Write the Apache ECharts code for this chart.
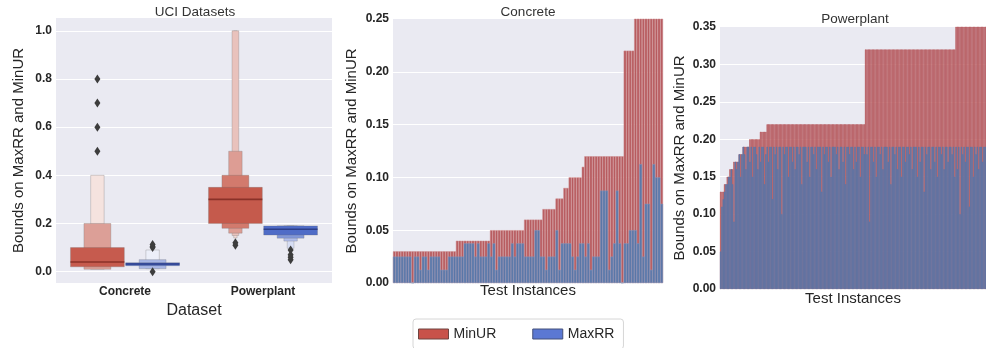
<!DOCTYPE html>
<html>
<head>
<meta charset="utf-8">
<script src="https://cdn.jsdelivr.net/npm/echarts@6/dist/echarts.min.js"></script>
<style>
html, body { margin: 0; padding: 0; background: #fff; }
#main { width: 986px; height: 348px; }
</style>
</head>
<body>
<div id="main"></div>
<script>
// ---- left panel: letter-value (boxen) plot ----
var datasets = ['Concrete', 'Powerplant'];
// boxes per dataset, innermost level first: [low, high]
var minurBoxes = [
	[[0.02, 0.10], [0.01, 0.20], [0.01, 0.40]],
	[[0.20, 0.35], [0.18, 0.40], [0.16, 0.50], [0.15, 1.00], [0.14, 1.00]]
];
var maxrrBoxes = [
	[[0.025, 0.0375], [0.0125, 0.05], [0.0125, 0.09]],
	[[0.152, 0.19], [0.139, 0.19], [0.127, 0.19], [0.097, 0.19]]
];
var minurMedians = [0.04, 0.30];
var maxrrMedians = [0.032, 0.176];
var minurOutliers = [[0.5, 0.6, 0.7, 0.8], [0.11, 0.12]];
var maxrrOutliers = [[0.0, 0.10, 0.105, 0.1125], [0.05, 0.06, 0.07, 0.09]];

// ---- middle panel: Concrete test instances (sorted by MinUR) ----
var concreteMinUR = [
	0.03, 0.03, 0.03, 0.03, 0.03, 0.03, 0.03, 0.03, 0.03, 0.03, 0.03, 0.03,
	0.03, 0.03, 0.03, 0.03, 0.03, 0.03, 0.03, 0.03, 0.03, 0.03, 0.03, 0.03,
	0.04, 0.04, 0.04, 0.04, 0.04, 0.04, 0.04, 0.04, 0.04, 0.04, 0.04, 0.04, 0.04,
	0.05, 0.05, 0.05, 0.05, 0.05, 0.05, 0.05, 0.05, 0.05, 0.05, 0.05, 0.05, 0.05,
	0.06, 0.06, 0.06, 0.06, 0.06, 0.06, 0.06,
	0.07, 0.07, 0.07, 0.07, 0.07,
	0.08, 0.08, 0.08,
	0.09, 0.09,
	0.10, 0.10, 0.10, 0.10, 0.10,
	0.11,
	0.12, 0.12, 0.12, 0.12, 0.12, 0.12, 0.12, 0.12, 0.12, 0.12, 0.12, 0.12, 0.12, 0.12, 0.12,
	0.22, 0.22, 0.22, 0.22,
	0.30, 0.30, 0.35, 0.40, 0.40, 0.40, 0.40, 0.50, 0.60, 0.70, 0.80
];
var concreteMaxRR = [
	0.025, 0.025, 0.025, 0.025, 0.025, 0.025, 0.025, 0.0, 0.025, 0.025,
	0.0125, 0.025, 0.025, 0.0125, 0.025, 0.025, 0.025, 0.025, 0.0125, 0.0125,
	0.0125, 0.025, 0.025, 0.025, 0.025, 0.025, 0.025, 0.0375, 0.0375, 0.0375,
	0.0375, 0.025, 0.0375, 0.025, 0.025, 0.025, 0.0375, 0.025, 0.0375, 0.0125,
	0.025, 0.025, 0.025, 0.025, 0.025, 0.0375, 0.025, 0.0375, 0.0375, 0.0375,
	0.025, 0.025, 0.025, 0.025, 0.05, 0.05, 0.025, 0.025, 0.0125, 0.025,
	0.025, 0.025, 0.05, 0.0125, 0.0375, 0.0375, 0.0375, 0.0375, 0.025, 0.0125,
	0.025, 0.0375, 0.0375, 0.025, 0.0375, 0.0125, 0.025, 0.025, 0.025, 0.0875,
	0.0875, 0.0875, 0.0125, 0.025, 0.0375, 0.0875, 0.0375, 0.0, 0.0375, 0.0375,
	0.05, 0.05, 0.05, 0.0375, 0.1125, 0.025, 0.075, 0.075, 0.0125, 0.1125,
	0.1, 0.1, 0.075
];

// ---- right panel: Powerplant test instances (sorted by MinUR) ----
var powerMinUR = [
	0.13, 0.13, 0.13, 0.14, 0.14, 0.15, 0.15, 0.16, 0.16, 0.16,
	0.17, 0.17, 0.17, 0.17, 0.18, 0.18, 0.18, 0.19, 0.19, 0.19, 0.19, 0.19,
	0.20, 0.20, 0.20, 0.20, 0.20, 0.20, 0.20, 0.20, 0.21, 0.21, 0.21, 0.21, 0.21,
	0.22, 0.22, 0.22, 0.22, 0.22, 0.22, 0.22, 0.22, 0.22, 0.22,
	0.22, 0.22, 0.22, 0.22, 0.22, 0.22, 0.22, 0.22, 0.22, 0.22,
	0.22, 0.22, 0.22, 0.22, 0.22, 0.22, 0.22, 0.22, 0.22, 0.22,
	0.22, 0.22, 0.22, 0.22, 0.22, 0.22, 0.22, 0.22, 0.22, 0.22,
	0.22, 0.22, 0.22, 0.22, 0.22, 0.22, 0.22, 0.22, 0.22, 0.22,
	0.22, 0.22, 0.22, 0.22, 0.22, 0.22, 0.22, 0.22, 0.22, 0.22,
	0.22, 0.22, 0.22, 0.22, 0.22, 0.22, 0.22, 0.22, 0.22, 0.22,
	0.22, 0.22, 0.22, 0.22,
	0.32, 0.32, 0.32, 0.32, 0.32, 0.32, 0.32, 0.32, 0.32, 0.32,
	0.32, 0.32, 0.32, 0.32, 0.32, 0.32, 0.32, 0.32, 0.32, 0.32,
	0.32, 0.32, 0.32, 0.32, 0.32, 0.32, 0.32, 0.32, 0.32, 0.32,
	0.32, 0.32, 0.32, 0.32, 0.32, 0.32, 0.32, 0.32, 0.32, 0.32,
	0.32, 0.32, 0.32, 0.32, 0.32, 0.32, 0.32, 0.32, 0.32, 0.32,
	0.32, 0.32, 0.32, 0.32, 0.32, 0.32, 0.32, 0.32, 0.32, 0.32,
	0.32, 0.32, 0.32, 0.32, 0.32, 0.32, 0.32, 0.32,
	0.36, 0.38, 0.40, 0.40, 0.42, 0.45, 0.45, 0.48, 0.50, 0.50,
	0.55, 0.60, 0.60, 0.65, 0.70, 0.70, 0.75, 0.80, 0.85, 0.90,
	0.95, 1.00, 1.00
];
var powerMaxRR = [
	0.05, 0.11, 0.12, 0.13, 0.14, 0.14, 0.15, 0.15, 0.16, 0.14,
	0.09, 0.17, 0.16, 0.17, 0.18, 0.15, 0.18, 0.19, 0.18, 0.16, 0.19, 0.19,
	0.17, 0.19, 0.15, 0.19, 0.19, 0.18, 0.16, 0.19, 0.17, 0.19, 0.19, 0.14, 0.18,
	0.19, 0.17, 0.19, 0.19, 0.12, 0.19, 0.18, 0.19, 0.16, 0.19,
	0.19, 0.10, 0.19, 0.18, 0.19, 0.19, 0.15, 0.19, 0.19, 0.17,
	0.19, 0.16, 0.19, 0.19, 0.18, 0.19, 0.14, 0.19, 0.19, 0.19,
	0.17, 0.19, 0.15, 0.19, 0.19, 0.18, 0.19, 0.16, 0.19, 0.19,
	0.19, 0.13, 0.19, 0.18, 0.19, 0.19, 0.17, 0.19, 0.15, 0.19,
	0.19, 0.19, 0.18, 0.19, 0.16, 0.19, 0.19, 0.17, 0.19, 0.14,
	0.19, 0.19, 0.18, 0.19, 0.19, 0.16, 0.19, 0.17, 0.19, 0.19,
	0.15, 0.19, 0.19, 0.18,
	0.19, 0.18, 0.19, 0.09, 0.19, 0.19, 0.17, 0.19, 0.15, 0.19,
	0.19, 0.18, 0.19, 0.16, 0.19, 0.19, 0.19, 0.17, 0.19, 0.14,
	0.19, 0.19, 0.18, 0.19, 0.16, 0.19, 0.19, 0.15, 0.19, 0.19,
	0.17, 0.19, 0.19, 0.18, 0.19, 0.16, 0.19, 0.19, 0.19, 0.15,
	0.19, 0.17, 0.19, 0.19, 0.13, 0.19, 0.18, 0.19, 0.19, 0.16,
	0.19, 0.19, 0.17, 0.19, 0.15, 0.19, 0.19, 0.18, 0.19, 0.16,
	0.19, 0.19, 0.17, 0.19, 0.19, 0.18, 0.19, 0.15,
	0.19, 0.16, 0.19, 0.10, 0.19, 0.18, 0.19, 0.17, 0.19, 0.19,
	0.11, 0.19, 0.19, 0.15, 0.19, 0.18, 0.19, 0.16, 0.19, 0.19,
	0.17, 0.19, 0.19
];

var concreteIdx = concreteMinUR.map(function(v, i) { return String(i + 1); });
var powerIdx = powerMinUR.map(function(v, i) { return String(i + 1); });

// styles
var FONT = "'Liberation Sans', Arial, sans-serif";
var BG = '#eaeaf2';
var minurShades = [['#c65b4e', '#dc9f97', '#f5e3df'], ['#c55a4c', '#d27a6d', '#dd9d94', '#e9c2bc', '#f3dcd8']];
var maxrrShades = [['#4f6cc7', '#a8b6e6', '#eceff9'], ['#4f6cc7', '#8197d9', '#b0bdea', '#d6ddf4']];
var BAR_RED = '#b75b5f';
var BAR_BLUE = '#5a76a7';

function boxData(boxes) {
	var out = [];
	boxes.forEach(function(levels, c) {
		levels.forEach(function(b, k) { out.push([c, b[0], b[1], k]); });
	});
	return out;
}
function pointData(lists) {
	var out = [];
	lists.forEach(function(vals, c) {
		vals.forEach(function(v) { out.push([c, v]); });
	});
	return out;
}

function boxRender(side, shades) {
	return function(params, api) {
		var c = api.value(0), k = api.value(3);
		var band = api.size([1, 0])[0];
		var cx = api.coord([c, 0])[0] + side * band * 0.2;
		var w = band * 0.39 / Math.pow(2, k);
		var top = api.coord([c, api.value(2)])[1];
		var bot = api.coord([c, api.value(1)])[1];
		return {
			type : 'rect',
			z2 : 20 - k,
			shape : { x : cx - w / 2, y : top, width : w, height : bot - top },
			style : { fill : shades[c][k], stroke : 'rgba(110,110,110,0.35)', lineWidth : 0.8 }
		};
	};
}
function medianRender(side, color) {
	return function(params, api) {
		var c = api.value(0);
		var band = api.size([1, 0])[0];
		var cx = api.coord([c, 0])[0] + side * band * 0.2;
		var w = band * 0.39;
		var y = api.coord([c, api.value(1)])[1];
		return {
			type : 'line',
			z2 : 30,
			shape : { x1 : cx - w / 2, y1 : y, x2 : cx + w / 2, y2 : y },
			style : { stroke : color, lineWidth : 1.6 }
		};
	};
}
function outlierRender(side) {
	return function(params, api) {
		var c = api.value(0);
		var band = api.size([1, 0])[0];
		var cx = api.coord([c, 0])[0] + side * band * 0.2;
		var y = api.coord([c, api.value(1)])[1];
		return {
			type : 'polygon',
			z2 : 40,
			shape : { points : [[cx, y - 4.5], [cx + 3, y], [cx, y + 4.5], [cx - 3, y]] },
			style : { fill : '#3d3d3d' }
		};
	};
}

function yAxisOf(grid, min, max, interval, digits, gap) {
	var ax = {
		type : 'value', gridIndex : grid, min : min, max : max,
		name : 'Bounds on MaxRR and MinUR', nameLocation : 'middle', nameGap : gap,
		nameTextStyle : { fontFamily : FONT, fontSize : 15, color : '#262626' },
		axisLine : { show : false }, axisTick : { show : false },
		axisLabel : {
			fontFamily : FONT, fontSize : 12, fontWeight : 'bold', color : '#262626', margin : 4,
			showMinLabel : interval ? true : false, showMaxLabel : interval ? true : false,
			formatter : function(v) { return v.toFixed(digits); }
		},
		splitLine : { show : true, showMinLine : false, showMaxLine : false, lineStyle : { color : '#ffffff', width : 1 } }
	};
	if (interval) ax.interval = interval;
	return ax;
}

var myChart = echarts.init(document.getElementById('main'));
var option = {
	animation : false,
	backgroundColor : '#ffffff',
	grid : [
		{ left : 56, top : 18, width : 276, height : 265, show : true, backgroundColor : BG, borderWidth : 0 },
		{ left : 393, top : 19, width : 270, height : 264, show : true, backgroundColor : BG, borderWidth : 0 },
		{ left : 720, top : 27, width : 266, height : 262, show : true, backgroundColor : BG, borderWidth : 0 }
	],
	xAxis : [
		{
			type : 'category', gridIndex : 0, data : datasets,
			name : 'Dataset', nameLocation : 'middle', nameGap : 13,
			nameTextStyle : { fontFamily : FONT, fontSize : 16, color : '#262626' },
			axisLine : { show : false }, axisTick : { show : false },
			axisLabel : { fontFamily : FONT, fontSize : 12, fontWeight : 'bold', color : '#262626', margin : 3 }
		},
		{
			type : 'category', gridIndex : 1, data : concreteIdx,
			name : 'Test Instances', nameLocation : 'middle', nameGap : 0,
			nameTextStyle : { fontFamily : FONT, fontSize : 15, color : '#262626' },
			axisLine : { show : false }, axisTick : { show : false }, axisLabel : { show : false }
		},
		{
			type : 'category', gridIndex : 2, data : powerIdx,
			name : 'Test Instances', nameLocation : 'middle', nameGap : 2,
			nameTextStyle : { fontFamily : FONT, fontSize : 15, color : '#262626' },
			axisLine : { show : false }, axisTick : { show : false }, axisLabel : { show : false }
		}
	],
	yAxis : [
		yAxisOf(0, -0.047, 1.053, null, 1, 30),
		yAxisOf(1, 0, 0.25, 0.05, 2, 34),
		yAxisOf(2, 0, 0.35, 0.05, 2, 33)
	],
	legend : {
		left : 413, top : 319,
		padding : [8, 9, 8, 5],
		itemWidth : 30, itemHeight : 10, itemGap : 36,
		borderColor : '#d6d6d6', borderWidth : 1, borderRadius : 3,
		backgroundColor : '#ffffff',
		selectedMode : false,
		icon : 'rect',
		textStyle : { fontFamily : FONT, fontSize : 14, color : '#262626' },
		data : [
			{ name : 'MinUR', itemStyle : { color : '#c8524a', borderColor : '#6e4440', borderWidth : 1 } },
			{ name : 'MaxRR', itemStyle : { color : '#5b78d3', borderColor : '#44507a', borderWidth : 1 } }
		]
	},
	graphic : [
		{ type : 'text', x : 195, y : 12, style : { text : 'UCI Datasets', font : '13.5px ' + FONT, fill : '#333', textAlign : 'center', textVerticalAlign : 'middle' } },
		{ type : 'text', x : 528, y : 12, style : { text : 'Concrete', font : '13.5px ' + FONT, fill : '#333', textAlign : 'center', textVerticalAlign : 'middle' } },
		{ type : 'text', x : 855, y : 19, style : { text : 'Powerplant', font : '13.5px ' + FONT, fill : '#333', textAlign : 'center', textVerticalAlign : 'middle' } }
	],
	series : [
		{ name : 'MinUR', type : 'custom', xAxisIndex : 0, yAxisIndex : 0, silent : true,
			renderItem : boxRender(-1, minurShades), data : boxData(minurBoxes), encode : { x : 0, y : [1, 2] } },
		{ name : 'MaxRR', type : 'custom', xAxisIndex : 0, yAxisIndex : 0, silent : true,
			renderItem : boxRender(1, maxrrShades), data : boxData(maxrrBoxes), encode : { x : 0, y : [1, 2] } },
		{ name : 'MinUR', type : 'custom', xAxisIndex : 0, yAxisIndex : 0, silent : true, z : 3,
			renderItem : medianRender(-1, '#8a3128'), data : pointData([[minurMedians[0]], [minurMedians[1]]]), encode : { x : 0, y : 1 } },
		{ name : 'MaxRR', type : 'custom', xAxisIndex : 0, yAxisIndex : 0, silent : true, z : 3,
			renderItem : medianRender(1, '#2e3f8a'), data : pointData([[maxrrMedians[0]], [maxrrMedians[1]]]), encode : { x : 0, y : 1 } },
		{ name : 'MinUR', type : 'custom', xAxisIndex : 0, yAxisIndex : 0, silent : true, z : 4,
			renderItem : outlierRender(-1), data : pointData(minurOutliers), encode : { x : 0, y : 1 } },
		{ name : 'MaxRR', type : 'custom', xAxisIndex : 0, yAxisIndex : 0, silent : true, z : 4,
			renderItem : outlierRender(1), data : pointData(maxrrOutliers), encode : { x : 0, y : 1 } },

		{ name : 'MinUR', type : 'bar', xAxisIndex : 1, yAxisIndex : 1, data : concreteMinUR, silent : true,
			barGap : '-100%', barCategoryGap : '0%', clip : true,
			itemStyle : { color : BAR_RED, borderColor : '#cd8a8c', borderWidth : 0.5 } },
		{ name : 'MaxRR', type : 'bar', xAxisIndex : 1, yAxisIndex : 1, data : concreteMaxRR, silent : true,
			barGap : '-100%', barCategoryGap : '0%', clip : true,
			itemStyle : { color : BAR_BLUE, borderColor : '#8298c0', borderWidth : 0.5 } },

		{ name : 'MinUR', type : 'bar', xAxisIndex : 2, yAxisIndex : 2, data : powerMinUR, silent : true,
			barGap : '-100%', barCategoryGap : '0%', clip : true,
			itemStyle : { color : BAR_RED, borderColor : BAR_RED, borderWidth : 0.6 } },
		{ name : 'MaxRR', type : 'bar', xAxisIndex : 2, yAxisIndex : 2, data : powerMaxRR, silent : true,
			barGap : '-100%', barCategoryGap : '0%', clip : true,
			itemStyle : { color : BAR_BLUE, borderColor : BAR_BLUE, borderWidth : 0.6 } }
	]
};
myChart.setOption(option);
</script>
</body>
</html>
